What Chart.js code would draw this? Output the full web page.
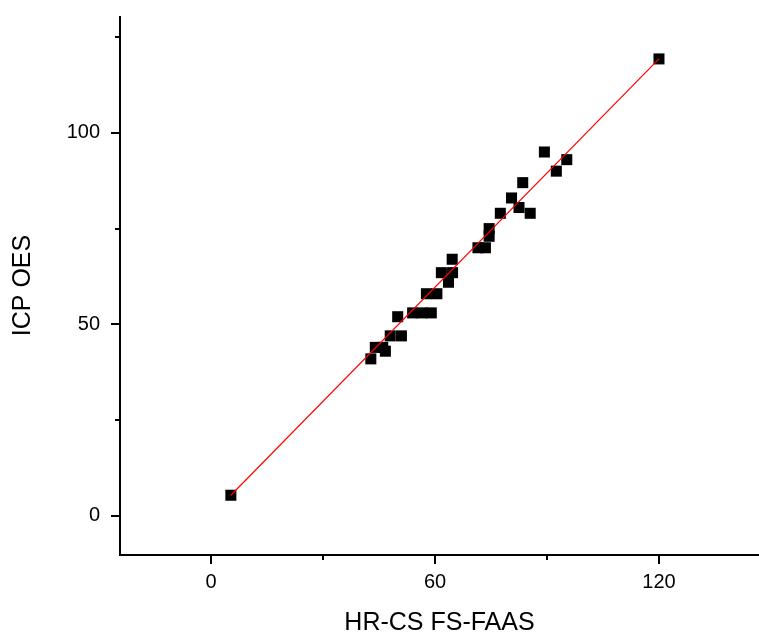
<!DOCTYPE html>
<html>
<head>
<meta charset="utf-8">
<script src="https://cdn.jsdelivr.net/npm/chart.js@4"></script>
<style>
  html, body { margin: 0; padding: 0; background: #fff; }
  #wrap { width: 759px; height: 632px; }
</style>
</head>
<body>
<div id="wrap"><canvas id="chart" width="759" height="632"></canvas></div>
<script>
// --- data ---
const hrcsX = [5.3, 42.8, 44, 46, 46.7, 48, 51, 50, 54, 56.5, 59, 57.7, 60.5, 61.7, 64.7, 63.6, 64.6,
               71.5, 73.5, 74.5, 74.5, 77.5, 80.5, 82.5, 83.5, 85.5, 89.3, 92.5, 95.3, 120];
const icpY  = [5.4, 41, 44, 44, 43, 47, 47, 52, 53, 53, 53, 58, 58, 63.5, 63.5, 61, 67,
               70, 70, 73, 75, 79, 83, 80.5, 87, 79, 95, 90, 93, 119.3];
const fitX = [5.3, 120];
const fitY = [5.4, 119.3];
const xMajor = [0, 60, 120];
const xMinor = [30, 90];
const yMajor = [0, 50, 100];
const yMinor = [25, 75, 125];

const font = 'Arial, "Liberation Sans", sans-serif';

// axis lines + major/minor tick marks (ticks go outward)
const axesPlugin = {
    id: 'axes',
    afterDraw(chart) {
        const { ctx, chartArea, scales } = chart;
        const xs = scales.x, ys = scales.y;
        ctx.save();
        ctx.strokeStyle = '#000';
        ctx.lineWidth = 2;
        ctx.beginPath();
        ctx.moveTo(chartArea.left, chartArea.top);
        ctx.lineTo(chartArea.left, chartArea.bottom);
        ctx.lineTo(chartArea.right, chartArea.bottom);
        ctx.stroke();
        ctx.beginPath();
        xMajor.forEach(v => { const p = Math.round(xs.getPixelForValue(v)); ctx.moveTo(p, chartArea.bottom); ctx.lineTo(p, chartArea.bottom + 9); });
        xMinor.forEach(v => { const p = Math.round(xs.getPixelForValue(v)); ctx.moveTo(p, chartArea.bottom); ctx.lineTo(p, chartArea.bottom + 5); });
        yMajor.forEach(v => { const p = Math.round(ys.getPixelForValue(v)); ctx.moveTo(chartArea.left, p); ctx.lineTo(chartArea.left - 9, p); });
        yMinor.forEach(v => { const p = Math.round(ys.getPixelForValue(v)); ctx.moveTo(chartArea.left, p); ctx.lineTo(chartArea.left - 5, p); });
        ctx.stroke();
        ctx.restore();
    }
};

// no extra room for half tick labels, chart area goes right to the edges
const noPad = s => { s.paddingTop = 0; s.paddingBottom = 0; s.paddingLeft = 0; s.paddingRight = 0; };

new Chart(document.getElementById('chart'), {
    type: 'scatter',
    data: {
        datasets: [
            {
                label: 'fit',
                data: fitX.map((x, i) => ({ x: x, y: fitY[i] })),
                showLine: true,
                borderColor: 'rgb(255, 0, 0)',
                backgroundColor: 'rgb(255, 0, 0)',
                borderWidth: 1.2,
                pointRadius: 0,
                fill: false
            },
            {
                label: 'data',
                data: hrcsX.map((x, i) => ({ x: x, y: icpY[i] })),
                pointStyle: 'rect',
                pointRadius: 7.8,
                backgroundColor: '#000',
                borderWidth: 0
            }
        ]
    },
    options: {
        responsive: false,
        animation: false,
        layout: { autoPadding: false, padding: { top: 16, right: 0, left: 0, bottom: 0 } },
        plugins: { legend: { display: false }, tooltip: { enabled: false } },
        scales: {
            x: {
                type: 'linear',
                min: -24.4,
                max: 146.8,
                afterFit: s => { s.height = 77; noPad(s); },
                afterBuildTicks: s => { s.ticks = xMajor.map(v => ({ value: v })); },
                grid: { display: false, drawTicks: false },
                border: { display: false },
                ticks: { color: '#000', padding: 15, font: { family: font, size: 20 } },
                title: { display: true, text: 'HR-CS FS-FAAS', color: '#000',
                         font: { family: font, size: 25 }, padding: { top: 0, bottom: -6 } }
            },
            y: {
                type: 'linear',
                min: -10.2,
                max: 130.5,
                afterFit: s => { s.width = 120; noPad(s); },
                afterBuildTicks: s => { s.ticks = yMajor.map(v => ({ value: v })); },
                grid: { display: false, drawTicks: false },
                border: { display: false },
                ticks: { color: '#000', padding: 20, font: { family: font, size: 20 } },
                title: { display: true, text: 'ICP OES', color: '#000',
                         font: { family: font, size: 25 }, padding: { top: 8, bottom: 0 } }
            }
        }
    },
    plugins: [axesPlugin]
});
</script>
</body>
</html>
